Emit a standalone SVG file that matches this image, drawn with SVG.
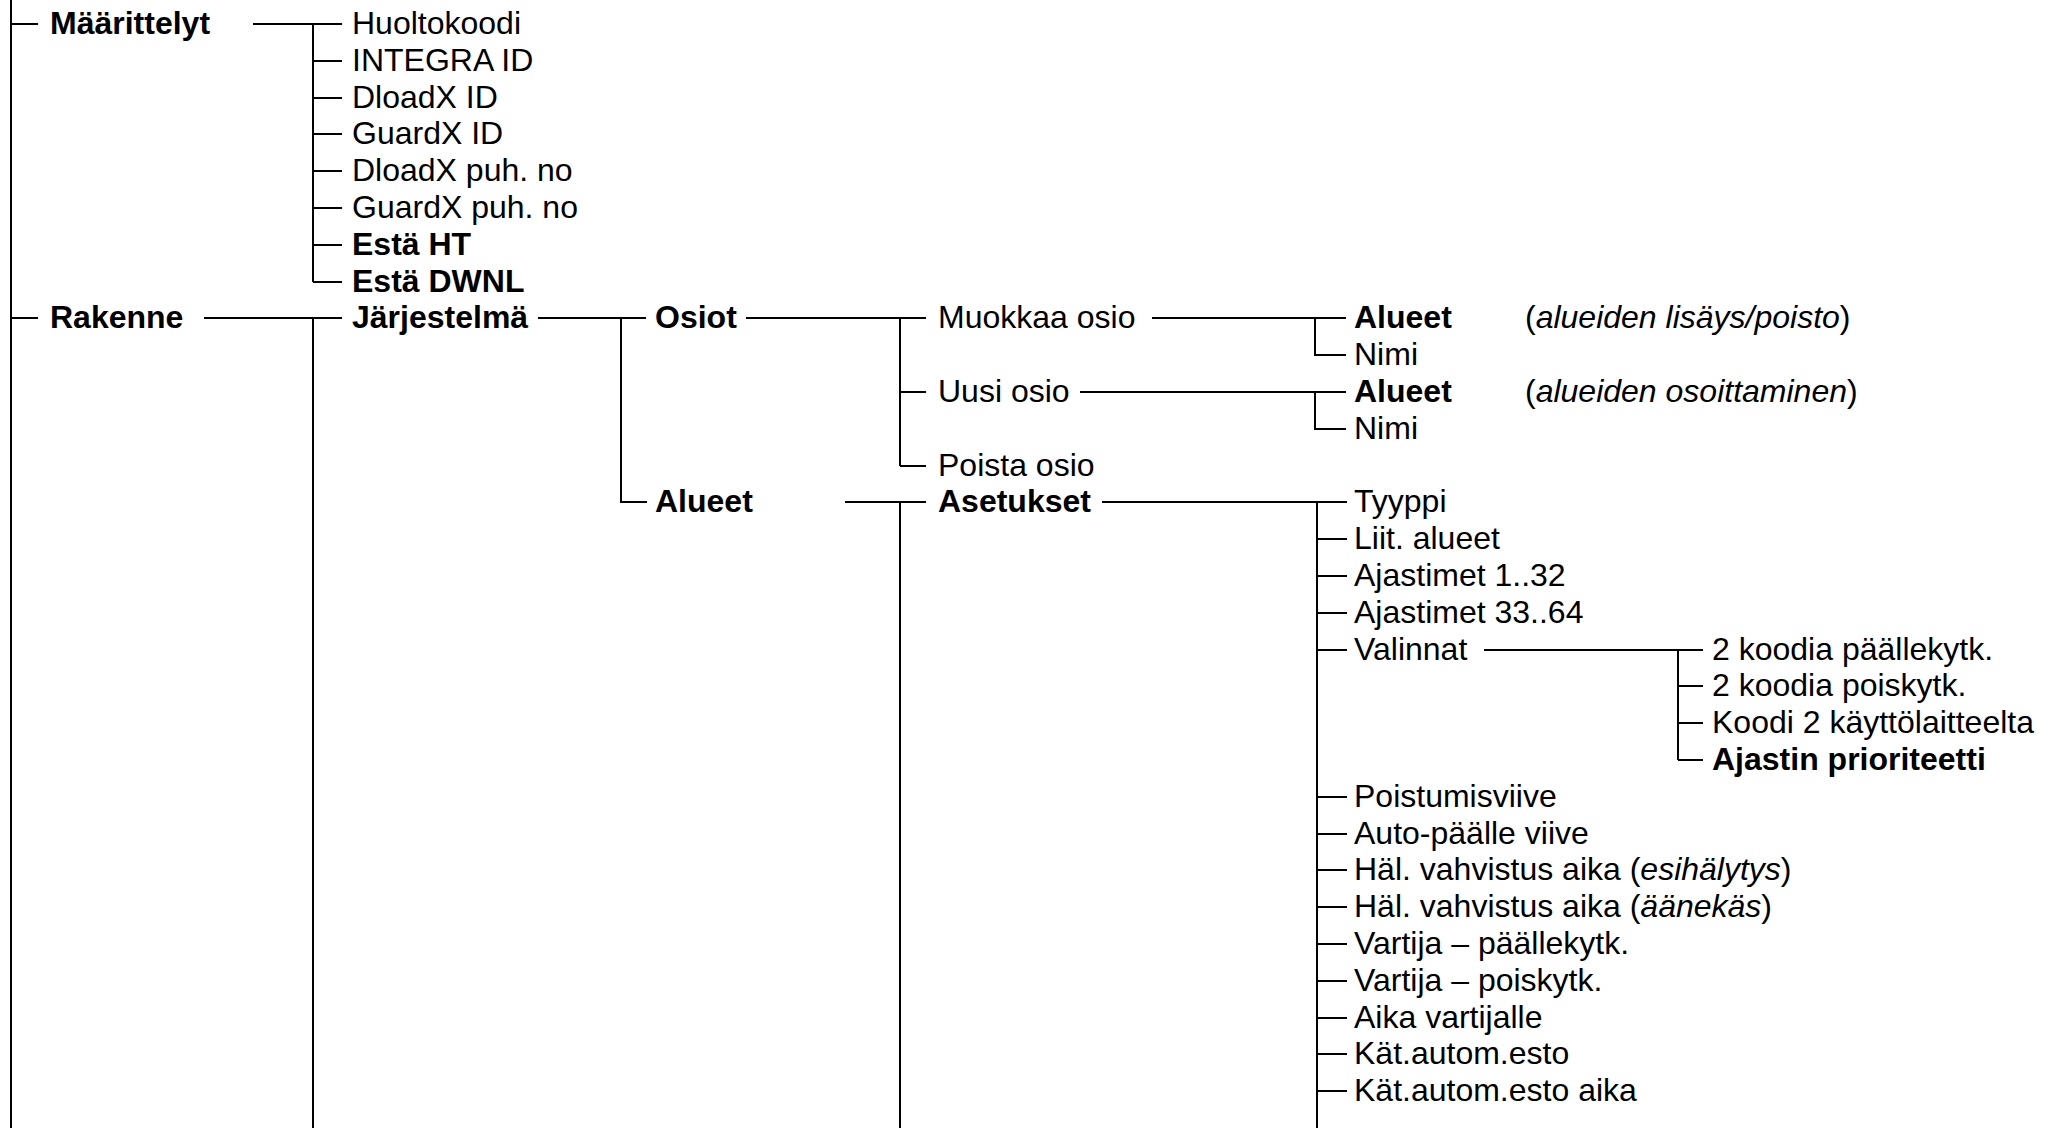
<svg xmlns="http://www.w3.org/2000/svg" width="2060" height="1128" viewBox="0 0 2060 1128">
<style>
.t{font-family:"Liberation Sans",Arial,Helvetica,sans-serif;font-size:32px;fill:#000}
.b{font-weight:bold}
.i{font-style:italic}
.c path{fill:none;stroke:#000;stroke-width:2}
</style>
<rect width="2060" height="1128" fill="#fff"/>
<g class="c" id="connectors">
<path d="M11 0V1128M11 24H38M11 318H38"/>
<path d="M253 24H342M313 24V282M313 61H342M313 98H342M313 134H342M313 171H342M313 208H342M313 245H342M313 282H342"/>
<path d="M204 318H342M313 318V1128"/>
<path d="M538 318H646M621 318V502H647"/>
<path d="M746 318H926M900 318V466M900 392H926M900 466H926"/>
<path d="M845 502H926M900 502V1128"/>
<path d="M1152 318H1346M1315 318V355H1346"/>
<path d="M1080 392H1346M1315 392V429H1346"/>
<path d="M1102 502H1347M1317 502V1128M1317 539H1347M1317 576H1347M1317 613H1347M1317 650H1347M1317 797H1347M1317 834H1347M1317 870H1347M1317 907H1347M1317 944H1347M1317 981H1347M1317 1018H1347M1317 1054H1347M1317 1091H1347"/>
<path d="M1484 650H1703M1678 650V760M1678 686H1703M1678 723H1703M1678 760H1703"/>
</g>
<g id="maarittelyt"><text class="t b" x="50" y="34">Määrittelyt</text></g>
<g id="m-children">
<text class="t" x="352" y="34">Huoltokoodi</text>
<text class="t" x="352" y="71">INTEGRA ID</text>
<text class="t" x="352" y="108">DloadX ID</text>
<text class="t" x="352" y="144">GuardX ID</text>
<text class="t" x="352" y="181">DloadX puh. no</text>
<text class="t" x="352" y="218">GuardX puh. no</text>
<text class="t b" x="352" y="255">Estä HT</text>
<text class="t b" x="352" y="292">Estä DWNL</text>
</g>
<g id="rakenne"><text class="t b" x="50" y="328">Rakenne</text></g>
<g id="jarjestelma"><text class="t b" x="352" y="328">Järjestelmä</text></g>
<g id="osiot"><text class="t b" x="655" y="328">Osiot</text></g>
<g id="muokkaa"><text class="t" x="938" y="328">Muokkaa osio</text></g>
<g id="muokkaa-alueet"><text class="t" x="1354" y="328"><tspan class="b">Alueet</tspan></text><text class="t" x="1525" y="328">(<tspan class="i">alueiden lisäys/poisto</tspan>)</text></g>
<g id="muokkaa-nimi"><text class="t" x="1354" y="365">Nimi</text></g>
<g id="uusi"><text class="t" x="938" y="402">Uusi osio</text></g>
<g id="uusi-alueet"><text class="t b" x="1354" y="402">Alueet</text><text class="t" x="1525" y="402">(<tspan class="i">alueiden osoittaminen</tspan>)</text></g>
<g id="uusi-nimi"><text class="t" x="1354" y="439">Nimi</text></g>
<g id="poista"><text class="t" x="938" y="476">Poista osio</text></g>
<g id="alueet"><text class="t b" x="655" y="512">Alueet</text></g>
<g id="asetukset"><text class="t b" x="938" y="512">Asetukset</text></g>
<g id="asetukset-children">
<text class="t" x="1354" y="512">Tyyppi</text>
<text class="t" x="1354" y="549">Liit. alueet</text>
<text class="t" x="1354" y="586">Ajastimet 1..32</text>
<text class="t" x="1354" y="623">Ajastimet 33..64</text>
<text class="t" x="1354" y="660">Valinnat</text>
<text class="t" x="1354" y="807">Poistumisviive</text>
<text class="t" x="1354" y="844">Auto-päälle viive</text>
<text class="t" x="1354" y="880">Häl. vahvistus aika (<tspan class="i">esihälytys</tspan>)</text>
<text class="t" x="1354" y="917">Häl. vahvistus aika (<tspan class="i">äänekäs</tspan>)</text>
<text class="t" x="1354" y="954">Vartija – päällekytk.</text>
<text class="t" x="1354" y="991">Vartija – poiskytk.</text>
<text class="t" x="1354" y="1028">Aika vartijalle</text>
<text class="t" x="1354" y="1064">Kät.autom.esto</text>
<text class="t" x="1354" y="1101">Kät.autom.esto aika</text>
</g>
<g id="valinnat-children">
<text class="t" x="1712" y="660">2 koodia päällekytk.</text>
<text class="t" x="1712" y="696">2 koodia poiskytk.</text>
<text class="t" x="1712" y="733">Koodi 2 käyttölaitteelta</text>
<text class="t b" x="1712" y="770">Ajastin prioriteetti</text>
</g>
</svg>
